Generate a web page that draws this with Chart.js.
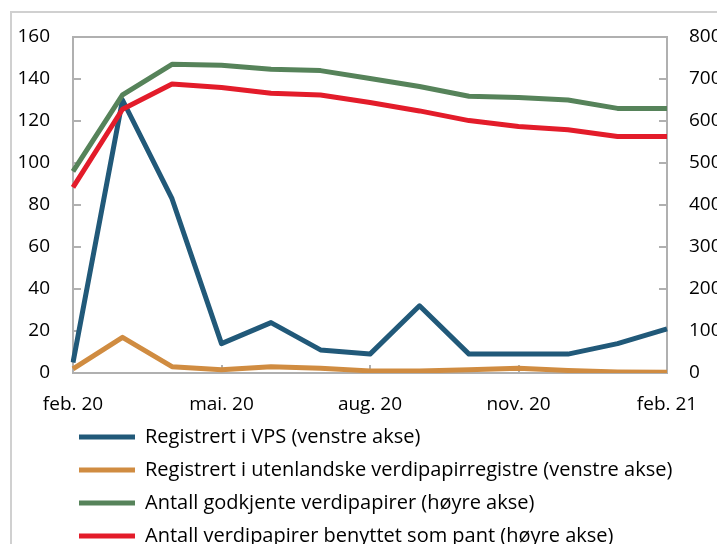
<!DOCTYPE html>
<html>
<head>
<meta charset="utf-8">
<script src="https://cdn.jsdelivr.net/npm/chart.js@4.4.1/dist/chart.umd.min.js"></script>
<style>
  html, body { margin: 0; padding: 0; background: #fff; overflow: hidden; width: 717px; height: 544px; }
  #frame { position: absolute; left: 10px; top: 11px; width: 800px; height: 700px; border: 2px solid #d0d0d0; box-sizing: border-box; }
  #c { position: absolute; left: 0; top: 0; }
</style>
</head>
<body>
<div id="frame"></div>
<canvas id="c" width="717" height="556"></canvas>
<script>
const months = ['feb. 20','mar. 20','apr. 20','mai. 20','jun. 20','jul. 20','aug. 20','sep. 20','okt. 20','nov. 20','des. 20','jan. 21','feb. 21'];
const registrertVPS = [5, 130, 83, 14, 24, 11, 9, 32, 9, 9, 9, 14, 21];
const registrertUtenlandske = [2, 17, 3, 1.5, 3, 2.3, 1, 1, 1.5, 2.3, 1.2, 0.5, 0.3];
const godkjente = [480, 662, 735, 733, 723, 720, 701, 682, 659, 656, 650, 630, 630];
const benyttetPant = [442, 628, 688, 680, 666, 662, 644, 624, 601, 587, 579, 563, 563];
const leftTicks = [0, 20, 40, 60, 80, 100, 120, 140, 160];
const rightTicks = [0, 100, 200, 300, 400, 500, 600, 700, 800];
const seriesNames = [
  'Registrert i VPS (venstre akse)',
  'Registrert i utenlandske verdipapirregistre (venstre akse)',
  'Antall godkjente verdipapirer (høyre akse)',
  'Antall verdipapirer benyttet som pant (høyre akse)'
];

const FONT = '"Open Sans", "Noto Sans", sans-serif';
const AXIS = '#b0b0b0';
Chart.defaults.font.family = FONT;
Chart.defaults.color = '#000';

const topFrame = {
  id: 'topFrame',
  beforeDatasetsDraw(chart) {
    const a = chart.chartArea, ctx = chart.ctx;
    ctx.save();
    ctx.strokeStyle = AXIS; ctx.lineWidth = 2;
    ctx.beginPath(); ctx.moveTo(a.left - 1, a.top); ctx.lineTo(a.right + 1, a.top); ctx.stroke();
    ctx.restore();
  }
};

const legendShift = {
  id: 'legendShift',
  afterLayout(chart) {
    const lg = chart.legend;
    lg.left = 66;
    lg.right = chart.width;
    lg.width = lg.right - lg.left;
  }
};

function noPad(s) { s.paddingTop = 0; s.paddingBottom = 0; s.paddingLeft = 0; s.paddingRight = 0; }

function ds(label, data, color, axis, order) {
  return { label, data, borderColor: color, backgroundColor: color, borderWidth: 5,
    pointRadius: 0, pointHoverRadius: 0, tension: 0, yAxisID: axis, order,
    borderCapStyle: 'butt', borderJoinStyle: 'round', fill: false };
}

new Chart(document.getElementById('c'), {
  type: 'line',
  data: {
    labels: months,
    datasets: [
      ds(seriesNames[0], registrertVPS, '#215979', 'y', 2),
      ds(seriesNames[1], registrertUtenlandske, '#d08c41', 'y', 3),
      ds(seriesNames[2], godkjente, '#56835a', 'y1', 0),
      ds(seriesNames[3], benyttetPant, '#e31c2a', 'y1', 1)
    ]
  },
  plugins: [topFrame, legendShift],
  options: {
    responsive: false,
    animation: false,
    devicePixelRatio: 1,
    layout: { padding: { left: 0, right: 0, top: 37, bottom: 0 } },
    plugins: {
      legend: {
        position: 'bottom',
        align: 'start',
        fullSize: false,
        labels: {
          usePointStyle: true,
          pointStyle: 'line',
          pointStyleWidth: 56,
          boxHeight: 5,
          padding: 13,
          color: '#000',
          font: { size: 20, family: FONT },
          sort: (a, b) => a.datasetIndex - b.datasetIndex
        }
      },
      tooltip: { enabled: false }
    },
    scales: {
      x: {
        offset: false,
        grid: { drawOnChartArea: false, drawTicks: true, tickLength: -8, lineWidth: 2,
          color: c => (c.index % 3 === 0 ? AXIS : 'rgba(0,0,0,0)') },
        border: { display: true, color: AXIS, width: 2 },
        ticks: { autoSkip: false, maxRotation: 0, padding: 28, font: { size: 19 },
          callback: function (v, i) { return i % 3 === 0 ? this.getLabelForValue(v) : ''; } },
        afterFit: s => { s.height = 41; noPad(s); }
      },
      y: {
        position: 'left', min: 0, max: 160,
        afterBuildTicks: s => { s.ticks = leftTicks.map(v => ({ value: v })); },
        grid: { drawOnChartArea: false, drawTicks: true, tickLength: -8, lineWidth: 2, color: AXIS },
        border: { display: true, color: AXIS, width: 2 },
        ticks: { padding: 31, font: { size: 19 } },
        afterFit: s => { s.width = 73; noPad(s); }
      },
      y1: {
        position: 'right', min: 0, max: 800,
        afterBuildTicks: s => { s.ticks = rightTicks.map(v => ({ value: v })); },
        grid: { drawOnChartArea: false, drawTicks: true, tickLength: -8, lineWidth: 2, color: AXIS },
        border: { display: true, color: AXIS, width: 2 },
        ticks: { padding: 30, font: { size: 19 } },
        afterFit: s => { s.width = 50; noPad(s); }
      }
    }
  }
});
</script>
</body>
</html>
